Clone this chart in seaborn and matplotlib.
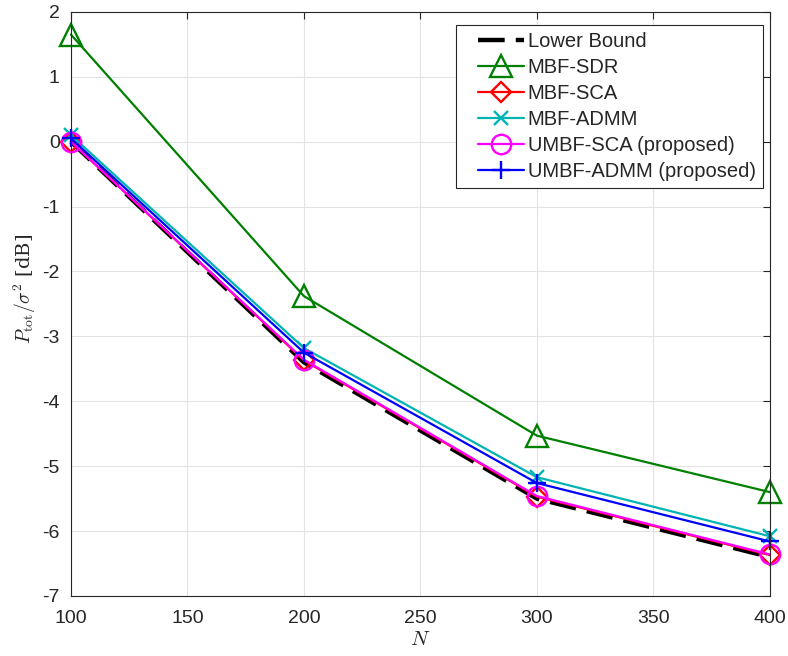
import matplotlib
matplotlib.use("Agg")
import matplotlib.pyplot as plt
from matplotlib.legend_handler import HandlerLine2D
import seaborn as sns
import pandas as pd
import numpy as np

N = [100, 200, 300, 400]
lower_bound = [0.0, -3.40, -5.50, -6.40]
mbf_sdr = [1.65, -2.38, -4.53, -5.40]
mbf_sca = [0.0, -3.37, -5.47, -6.37]
mbf_admm = [0.10, -3.18, -5.17, -6.08]
umbf_sca = [0.0, -3.36, -5.46, -6.36]
umbf_admm = [0.05, -3.25, -5.26, -6.16]
yticks = [2, 1, 0, -1, -2, -3, -4, -5, -6, -7]

sns.set_theme(style="whitegrid")
plt.rcParams['font.family'] = ['Liberation Sans', 'DejaVu Sans']
plt.rcParams['mathtext.fontset'] = 'cm'
plt.rcParams['axes.unicode_minus'] = False


class RightHandler(HandlerLine2D):
    def get_xdata(self, legend, xdescent, ydescent, width, height, fontsize):
        x0 = -xdescent + width * 0.24
        x1 = -xdescent + width
        return np.array([x0, x1]), np.array([(x0 + x1) / 2])


fig = plt.figure(figsize=(7.88, 6.56), dpi=100)
ax = fig.add_axes([0.090, 0.0915, 0.887, 0.8905])

series = [
    ("Lower Bound", lower_bound, dict(color='black', lw=3.2, dashes=(6, 2.5), marker=None)),
    ("MBF-SDR", mbf_sdr, dict(color='#008000', lw=1.6, marker='^', ms=16)),
    ("MBF-SCA", mbf_sca, dict(color='#ff0000', lw=1.6, marker='D', ms=10)),
    ("MBF-ADMM", mbf_admm, dict(color='#00b4b4', lw=1.6, marker='x', ms=9.5)),
    ("UMBF-SCA (proposed)", umbf_sca, dict(color='#ff00ff', lw=1.6, marker='o', ms=14)),
    ("UMBF-ADMM (proposed)", umbf_admm, dict(color='#0000ff', lw=1.6, marker='+', ms=13)),
]

for name, vals, st in series:
    df = pd.DataFrame({"N": N, "P": vals})
    kw = dict(color=st['color'], linewidth=st['lw'], label=name, clip_on=False)
    if st.get('marker'):
        kw.update(marker=st['marker'], markersize=st['ms'], markerfacecolor='none',
                  markeredgecolor=st['color'], markeredgewidth=1.7)
    sns.lineplot(data=df, x="N", y="P", ax=ax, **kw)
    if 'dashes' in st:
        ax.lines[-1].set_dashes(st['dashes'])

ax.set_xlim(100, 400)
ax.set_ylim(-7, 2)
ax.set_xticks([100, 150, 200, 250, 300, 350, 400])
ax.set_yticks(yticks)
ax.tick_params(axis='both', direction='in', labelsize=14, length=5, width=0.8,
               color='#262626', labelcolor='#262626')
ax.tick_params(axis='x', pad=10)
ax.tick_params(axis='y', pad=8)
ax.tick_params(top=True, right=True, labeltop=False, labelright=False)
ax.grid(True, color='#e3e3e3', linewidth=0.8)
for sp in ax.spines.values():
    sp.set_color('#262626')
    sp.set_linewidth(0.8)
ax.set_facecolor('white')

ax.set_xlabel(r"$N$", fontsize=15, labelpad=2)
ax.set_ylabel(r"$P_{\rm tot}/\sigma^2$ [dB]", fontsize=14)
ax.yaxis.label.set_fontfamily('serif')
ax.yaxis.set_label_coords(-0.047, 0.526)

handles, labels = ax.get_legend_handles_labels()
leg = ax.legend(handles, labels, loc='upper right', bbox_to_anchor=(0.990, 0.978), fontsize=14.5,
                frameon=True, fancybox=False, edgecolor='#262626', framealpha=1,
                handlelength=3.0, handletextpad=0.2, borderpad=0.35,
                labelspacing=0.35, borderaxespad=0.0,
                handler_map={h: RightHandler() for h in handles})
leg.get_frame().set_linewidth(0.8)

fig.savefig("out.png", dpi=100)
